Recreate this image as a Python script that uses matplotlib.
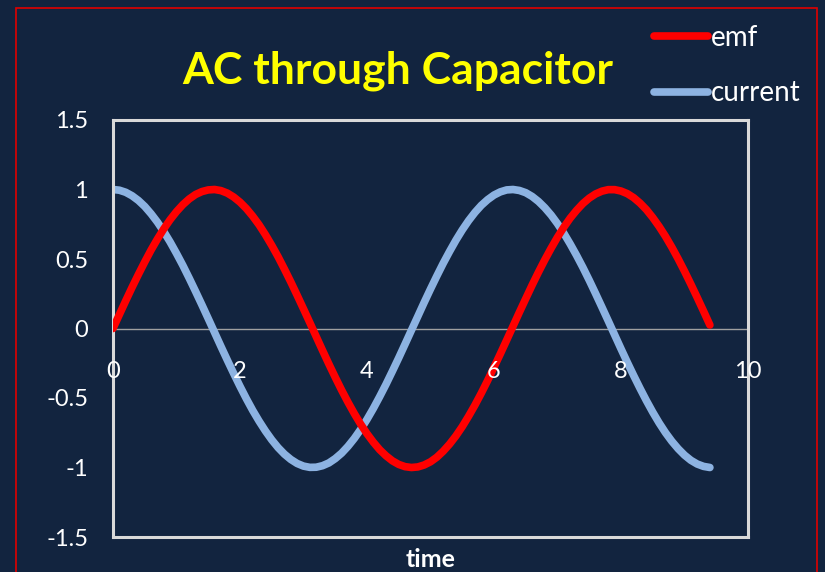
import matplotlib as mpl
import matplotlib.pyplot as plt
from matplotlib.patches import Rectangle

# time samples and the two curves
t = [0.0, 0.1, 0.2, 0.3, 0.4, 0.5, 0.6, 0.7, 0.8, 0.9,
     1.0, 1.1, 1.2, 1.3, 1.4, 1.5, 1.6, 1.7, 1.8, 1.9,
     2.0, 2.1, 2.2, 2.3, 2.4, 2.5, 2.6, 2.7, 2.8, 2.9,
     3.0, 3.1, 3.2, 3.3, 3.4, 3.5, 3.6, 3.7, 3.8, 3.9,
     4.0, 4.1, 4.2, 4.3, 4.4, 4.5, 4.6, 4.7, 4.8, 4.9,
     5.0, 5.1, 5.2, 5.3, 5.4, 5.5, 5.6, 5.7, 5.8, 5.9,
     6.0, 6.1, 6.2, 6.3, 6.4, 6.5, 6.6, 6.7, 6.8, 6.9,
     7.0, 7.1, 7.2, 7.3, 7.4, 7.5, 7.6, 7.7, 7.8, 7.9,
     8.0, 8.1, 8.2, 8.3, 8.4, 8.5, 8.6, 8.7, 8.8, 8.9,
     9.0, 9.1, 9.2, 9.3, 9.4]
emf = [0.000, 0.100, 0.199, 0.296, 0.389, 0.479, 0.565, 0.644, 0.717, 0.783,
       0.841, 0.891, 0.932, 0.964, 0.985, 0.997, 1.000, 0.992, 0.974, 0.946,
       0.909, 0.863, 0.808, 0.746, 0.675, 0.598, 0.516, 0.427, 0.335, 0.239,
       0.141, 0.042, -0.058, -0.158, -0.256, -0.351, -0.443, -0.530, -0.612, -0.688,
       -0.757, -0.818, -0.872, -0.916, -0.952, -0.978, -0.994, -1.000, -0.996, -0.982,
       -0.959, -0.926, -0.883, -0.832, -0.773, -0.706, -0.631, -0.551, -0.465, -0.374,
       -0.279, -0.182, -0.083, 0.017, 0.117, 0.215, 0.312, 0.405, 0.494, 0.578,
       0.657, 0.729, 0.794, 0.850, 0.899, 0.938, 0.968, 0.988, 0.999, 0.999,
       0.989, 0.970, 0.941, 0.902, 0.855, 0.798, 0.734, 0.663, 0.585, 0.501,
       0.412, 0.319, 0.223, 0.125, 0.025]
current = [1.000, 0.995, 0.980, 0.955, 0.921, 0.878, 0.825, 0.765, 0.697, 0.622,
           0.540, 0.454, 0.362, 0.267, 0.170, 0.071, -0.029, -0.129, -0.227, -0.323,
           -0.416, -0.505, -0.589, -0.666, -0.737, -0.801, -0.857, -0.904, -0.942, -0.971,
           -0.990, -0.999, -0.998, -0.987, -0.967, -0.936, -0.897, -0.848, -0.791, -0.726,
           -0.654, -0.575, -0.490, -0.401, -0.307, -0.211, -0.112, -0.012, 0.087, 0.187,
           0.284, 0.378, 0.469, 0.554, 0.635, 0.709, 0.776, 0.835, 0.886, 0.927,
           0.960, 0.983, 0.997, 1.000, 0.993, 0.977, 0.950, 0.914, 0.869, 0.816,
           0.754, 0.685, 0.608, 0.526, 0.439, 0.347, 0.251, 0.153, 0.054, -0.046,
           -0.146, -0.244, -0.339, -0.431, -0.519, -0.602, -0.679, -0.749, -0.811, -0.865,
           -0.911, -0.948, -0.975, -0.992, -1.000]
x_ticks = [0, 2, 4, 6, 8, 10]
y_ticks = [-1.5, -1, -0.5, 0, 0.5, 1, 1.5]
y_labels = ['-1.5', '-1', '-0.5', '0', '0.5', '1', '1.5']

bg = '#12243f'
mpl.rcParams['font.family'] = ['Lato', 'DejaVu Sans']

fig = plt.figure(figsize=(8.25, 5.72), dpi=100, facecolor=bg)

# red frame round the chart (runs off the bottom edge)
fig.patches.append(Rectangle((16/825, -0.05), (817-16)/825, 1.05 - 8/572,
                             transform=fig.transFigure, fill=False,
                             edgecolor='#e00000', linewidth=1.2))

ax = fig.add_axes([113/825, 1-537/572, (748-113)/825, (537-120)/572])
ax.set_facecolor(bg)
for sp in ax.spines.values():
    sp.set_color('#d9d9d9')
    sp.set_linewidth(2.2)

ax.axhline(0, color='#a0a0a0', linewidth=1.0, zorder=1)
l1, = ax.plot(t, emf, color='#ff0000', linewidth=5.5, solid_capstyle='round',
              solid_joinstyle='round', label='emf', zorder=3)
l2, = ax.plot(t, current, color='#8db3e2', linewidth=5.5, solid_capstyle='round',
              solid_joinstyle='round', label='current', zorder=2)

ax.set_xlim(0, 10)
ax.set_ylim(-1.5, 1.5)
ax.set_yticks(y_ticks)
ax.set_yticklabels(y_labels)
ax.tick_params(axis='y', length=0, pad=18, labelsize=17, labelcolor='white')
ax.set_xticks([])

# x tick labels sit below the zero line
for v in x_ticks:
    ax.annotate(str(v), xy=(v, 0), xytext=(0, -43), textcoords='offset pixels',
                ha='center', va='center', color='white', fontsize=17,
                annotation_clip=False)

ax.set_xlabel('time', color='white', fontsize=18, fontweight='bold', labelpad=8)

fig.text(398/825, 1-71/572, 'AC through Capacitor', color='#ffff00',
         fontsize=32, fontweight='bold', ha='center', va='center')

fig.legend(handles=[l1, l2], loc='upper left', bbox_to_anchor=(643/825, 1-14/572),
           frameon=False, fontsize=20, labelcolor='white', handlelength=1.95,
           handletextpad=0.1, labelspacing=1.05, borderaxespad=0)

fig.savefig('out.png', dpi=100, facecolor=bg)
